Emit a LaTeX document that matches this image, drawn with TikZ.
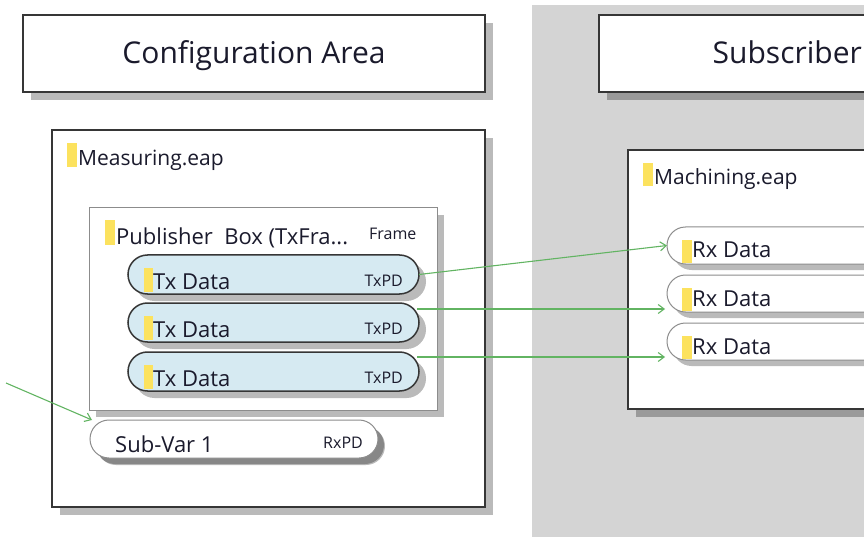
\documentclass[tikz,border=0pt]{standalone}
\usepackage{fontspec}
\setmainfont{Open Sans}
\usetikzlibrary{shadows,arrows.meta,calc}
\definecolor{bggray}{HTML}{D4D4D4}
\definecolor{edge}{HTML}{363636}
\definecolor{lightedge}{HTML}{8C8C8C}
\definecolor{pillblue}{HTML}{D6EAF2}
\definecolor{markyellow}{HTML}{FCE25E}
\definecolor{txt}{HTML}{1A1A2C}
\definecolor{wire}{HTML}{62B462}
\begin{document}
\begin{tikzpicture}[x=1pt,y=-1pt,
  shad/.style={drop shadow={shadow xshift=#1, shadow yshift=-#1, fill=black, opacity=0.27}},
  areabox/.style={draw=edge, line width=1.7pt, fill=white, anchor=north west, inner sep=0pt, outer sep=0pt, shad=8pt},
  pubbox/.style={draw=lightedge, line width=1pt, fill=white, anchor=north west, inner sep=0pt, outer sep=0pt, shad=7pt},
  txpill/.style={draw=edge, line width=1.5pt, fill=pillblue, rounded corners=19.5pt, minimum height=39pt, anchor=north west, inner sep=0pt, outer sep=0pt, shad=7pt},
  rxpill/.style={draw=lightedge, line width=1pt, fill=white, rounded corners=18.5pt, minimum height=37pt, anchor=north west, inner sep=0pt, outer sep=0pt, shad=6pt},
  bigtxt/.style={font=\fontsize{30}{35}\selectfont, text=txt, inner sep=0pt, anchor=base},
  lbl/.style={font=\fontsize{22}{26}\selectfont, text=txt, anchor=base west, inner sep=0pt},
  filelbl/.style={font=\fontsize{21}{25}\selectfont, text=txt, anchor=base west, inner sep=0pt},
  tag/.style={font=\fontsize{16}{19}\selectfont, text=txt, anchor=base east, inner sep=0pt},
  link/.style={draw=wire, line width=1.1pt, -{Straight Barb[length=6pt,width=9pt]}},
  bar/.style={fill=markyellow}
]
\path[use as bounding box, clip] (0,0) rectangle (864,537);

% background of subscriber side
\fill[bggray] (532,5) rectangle (880,545);

% headers
\node[areabox, minimum width=462pt, minimum height=77pt] (cfg) at (23,15) {};
\node[bigtxt] (cfgt) at (254,64) {Configuration Area};
\node[areabox, minimum width=320pt, minimum height=77pt] (subh) at (599,15) {};
\node[bigtxt, anchor=base east] (subt) at (862,64) {Subscriber};

% measuring
\node[areabox, minimum width=433pt, minimum height=377pt] (meas) at (52,130) {};
\fill[bar] (67,143) rectangle (77,167);
\node[filelbl] (meast) at (78,166) {Measuring.eap};

\node[pubbox, minimum width=348pt, minimum height=202pt] (pub) at (89,208) {};
\fill[bar] (105,220) rectangle (115,245);
\node[lbl] (pubt) at (116,244) {Publisher\ \ Box (TxFra...};
\node[tag, anchor=base west] (pubf) at (369,240) {Frame};

\node[txpill, minimum width=291pt] (tx1) at (128,255) {};
\fill[bar] (144,268) rectangle (153,292);
\node[lbl] (tx1t) at (153,289) {Tx Data};
\node[tag] (tx1p) at (403,286) {TxPD};

\node[txpill, minimum width=291pt] (tx2) at (128,303) {};
\fill[bar] (144,316) rectangle (153,340);
\node[lbl] (tx2t) at (153,337) {Tx Data};
\node[tag] (tx2p) at (403,334) {TxPD};

\node[txpill, minimum width=291pt] (tx3) at (128,352) {};
\fill[bar] (144,365) rectangle (153,389);
\node[lbl] (tx3t) at (153,386) {Tx Data};
\node[tag] (tx3p) at (403,383) {TxPD};

\node[rxpill, minimum width=288pt, minimum height=38pt, rounded corners=19pt, shad=7pt] (subv) at (90,420) {};
\node[lbl] (subvt) at (115,452) {Sub-Var 1};
\node[tag] (subvp) at (363,448) {RxPD};

% machining
\node[areabox, minimum width=300pt, minimum height=259pt] (mach) at (628,150) {};
\fill[bar] (643,163) rectangle (653,186);
\node[filelbl] (macht) at (654,185) {Machining.eap};

\node[rxpill, minimum width=300pt] (rx1) at (667,227) {};
\fill[bar] (682,240) rectangle (692,263);
\node[lbl] (rx1t) at (692,258) {Rx Data};

\node[rxpill, minimum width=300pt] (rx2) at (667,275) {};
\fill[bar] (682,288) rectangle (692,311);
\node[lbl] (rx2t) at (692,306) {Rx Data};

\node[rxpill, minimum width=300pt] (rx3) at (667,323) {};
\fill[bar] (682,336) rectangle (692,359);
\node[lbl] (rx3t) at (692,354) {Rx Data};

% connectors
\draw[link] (tx1.east) -- (rx1.west);
\draw[link] ([yshift=13.5pt, xshift=-2pt]tx2.east) -- ([yshift=-15.5pt, xshift=-2pt]rx2.west);
\draw[link] ([yshift=14.5pt, xshift=-2pt]tx3.east) -- ([yshift=-15.5pt, xshift=-2pt]rx3.west);
\coordinate (src) at (6,383);
\draw[link] (src) -- ([xshift=2pt]subv.north west);
\end{tikzpicture}
\end{document}
